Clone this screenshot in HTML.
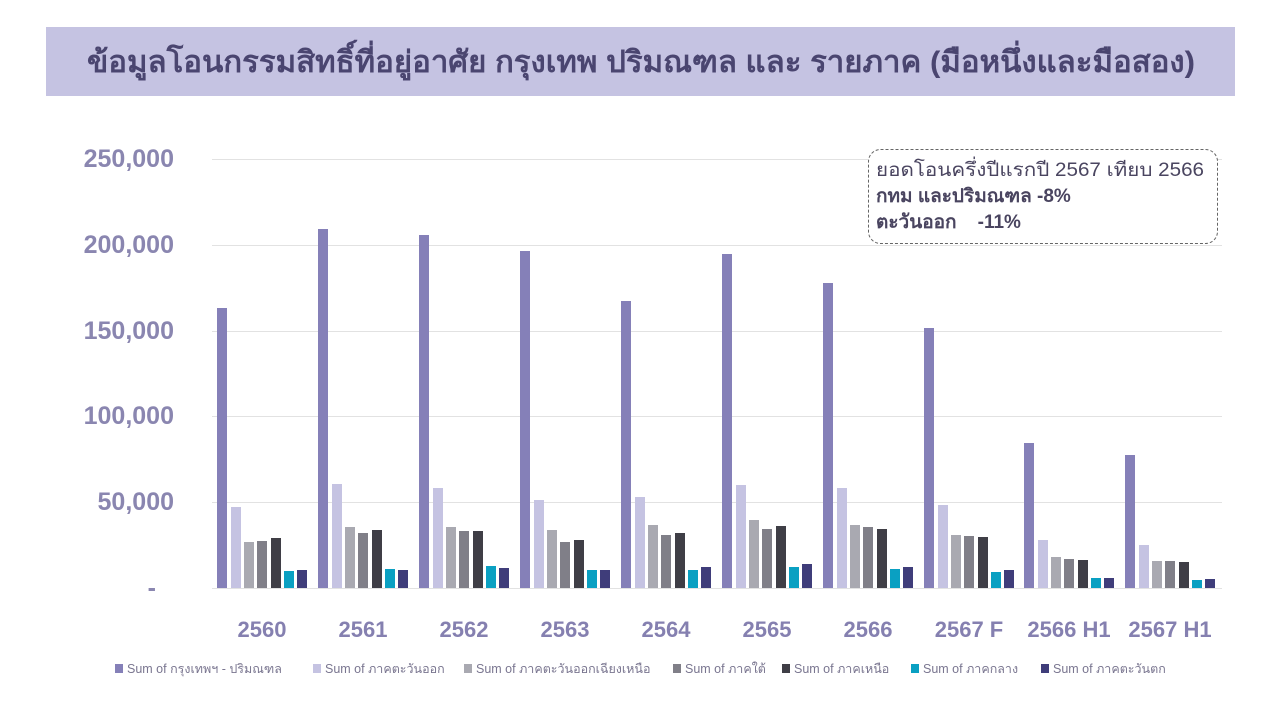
<!DOCTYPE html>
<html><head><meta charset="utf-8"><style>
body{margin:0;background:#fff;}
svg{display:block;font-family:"Liberation Sans","Noto Sans CJK SC",sans-serif;}
</style></head><body>
<svg id="s" width="1280" height="720" xmlns="http://www.w3.org/2000/svg">
<rect x="46" y="27" width="1189" height="69" fill="#c5c3e2"/>
<text x="641" y="72" text-anchor="middle" font-size="30" font-weight="bold" fill="#4a4570" textLength="1108" lengthAdjust="spacingAndGlyphs">ข้อมูลโอนกรรมสิทธิ์ที่อยู่อาศัย กรุงเทพ ปริมณฑล และ รายภาค (มือหนึ่งและมือสอง)</text>
<g stroke="#e2e2e2" stroke-width="1">
<line x1="212" y1="159.5" x2="1222" y2="159.5"/><line x1="212" y1="245.5" x2="1222" y2="245.5"/>
<line x1="212" y1="331.5" x2="1222" y2="331.5"/><line x1="212" y1="416.5" x2="1222" y2="416.5"/>
<line x1="212" y1="502.5" x2="1222" y2="502.5"/><line x1="212" y1="588.5" x2="1222" y2="588.5"/>
</g>
<g font-size="25" font-weight="bold" fill="#8a86b0" text-anchor="end">
<text x="174" y="167">250,000</text><text x="174" y="253">200,000</text>
<text x="174" y="339">150,000</text><text x="174" y="424">100,000</text>
<text x="174" y="510">50,000</text><text x="156" y="596">-</text>
</g>
<g id="bars"></g>
<g font-size="22" font-weight="bold" fill="#8580b0" text-anchor="middle" id="xl"></g>
<rect x="868.5" y="149.5" width="349" height="94" rx="12" fill="#fff" stroke="#666" stroke-dasharray="3,2"/>
<text x="876" y="176" font-size="19" fill="#4a4560" textLength="328" lengthAdjust="spacingAndGlyphs">ยอดโอนครึ่งปีแรกปี 2567 เทียบ 2566</text>
<text x="876" y="202" font-size="19" font-weight="bold" fill="#4a4560">กทม และปริมณฑล  -8%</text>
<text x="876" y="228" font-size="19" font-weight="bold" fill="#4a4560" xml:space="preserve">ตะวันออก    -11%</text>
<g font-size="12.5" fill="#7a7690" id="lg"></g>
</svg>
<script>
var cols=["#8580b8","#c5c3e2","#a9a9b1","#807f88","#3f3e46","#0aa0c2","#3f3d7a"];
var tops=[[308,507,542,541,538,571,570],[229,484,527,533,530,569,570],[235,488,527,531,531,566,568],[251,500,530,542,540,570,570],[301,497,525,535,533,570,567],[254,485,520,529,526,567,564],[283,488,525,527,529,569,567],[328,505,535,536,537,572,570],[443,540,557,559,560,578,578],[455,545,561,561,562,580,579]];
var xs=[217,318,419,520,621,722,823,924,1024,1125];
var labs=["2560","2561","2562","2563","2564","2565","2566","2567 F","2566 H1","2567 H1"];
var offs=[0,14,27,40,54,67,80];
var ns="http://www.w3.org/2000/svg",b=document.getElementById("bars"),xl=document.getElementById("xl");
for(var g=0;g<10;g++){for(var i=0;i<7;i++){var r=document.createElementNS(ns,"rect");r.setAttribute("x",xs[g]+offs[i]);r.setAttribute("y",tops[g][i]);r.setAttribute("width",10);r.setAttribute("height",588-tops[g][i]);r.setAttribute("fill",cols[i]);b.appendChild(r);}
var t=document.createElementNS(ns,"text");t.setAttribute("x",xs[g]+45);t.setAttribute("y",637);t.textContent=labs[g];xl.appendChild(t);}
var ln=["Sum of กรุงเทพฯ - ปริมณฑล","Sum of ภาคตะวันออก","Sum of ภาคตะวันออกเฉียงเหนือ","Sum of ภาคใต้","Sum of ภาคเหนือ","Sum of ภาคกลาง","Sum of ภาคตะวันตก"];
var lx=[115,313,464,673,782,911,1041],lg=document.getElementById("lg");
for(var i=0;i<7;i++){var r=document.createElementNS(ns,"rect");r.setAttribute("x",lx[i]);r.setAttribute("y",664);r.setAttribute("width",8);r.setAttribute("height",9);r.setAttribute("fill",cols[i]);lg.appendChild(r);
var t=document.createElementNS(ns,"text");t.setAttribute("x",lx[i]+12);t.setAttribute("y",673);t.textContent=ln[i];lg.appendChild(t);}
</script>
</body></html>
